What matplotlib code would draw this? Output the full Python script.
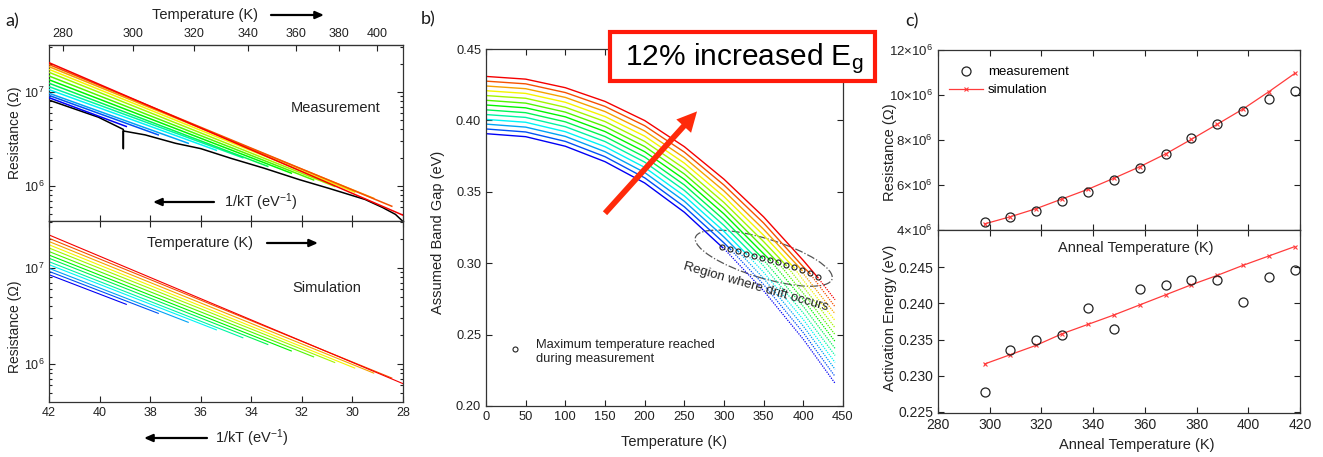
import numpy as np
import matplotlib
matplotlib.use('Agg')
import matplotlib.pyplot as plt
from matplotlib.patches import Ellipse, Rectangle
from matplotlib.colors import hsv_to_rgb
from matplotlib.ticker import FixedLocator, NullFormatter, FixedFormatter, LogLocator

plt.rcParams['font.family'] = ['Liberation Sans', 'DejaVu Sans']
plt.rcParams['mathtext.fontset'] = 'custom'
plt.rcParams['mathtext.rm'] = 'Liberation Sans'
plt.rcParams['mathtext.it'] = 'Liberation Sans:italic'
plt.rcParams['mathtext.default'] = 'regular'

K_B = 8.617e-5  # eV/K

# ---------------- data ----------------
anneal_T = [298, 308, 318, 328, 338, 348, 358, 368, 378, 388, 398, 408, 418]

# panel a (measurement): R at 1/kT = 42 and at end of each anneal sweep
meas_R_start = [8.7e6, 9.2e6, 9.7e6, 10.6e6, 11.4e6, 12.4e6, 13.5e6, 14.8e6,
                16.2e6, 17.4e6, 18.6e6, 19.6e6, 20.5e6]
meas_R_end = [4.3e6, 3.5e6, 2.85e6, 2.4e6, 2.0e6, 1.62e6, 1.37e6, 1.16e6,
              9.9e5, 8.6e5, 7.4e5, 6.1e5, 4.6e5]
# black baseline curve
base_invkT = [42.0, 40.05, 39.06, 39.06, 39.06, 38.2, 37.0, 36.0, 34.8, 33.5,
              32.1, 30.9, 29.5, 28.8, 28.3, 28.0]
base_R = [8.2e6, 5.4e6, 4.0e6, 2.5e6, 3.85e6, 3.5e6, 2.85e6, 2.5e6, 1.97e6,
          1.55e6, 1.17e6, 9.4e5, 7.2e5, 5.9e5, 5.0e5, 4.2e5]

# panel a (simulation)
sim_R_start = [8.5e6, 9.2e6, 9.9e6, 10.8e6, 11.6e6, 12.6e6, 13.6e6, 14.8e6,
               16.1e6, 17.4e6, 18.8e6, 20.3e6, 22.0e6]
sim_R_end = [4.18e6, 3.37e6, 2.72e6, 2.27e6, 1.88e6, 1.60e6, 1.37e6, 1.19e6,
             1.04e6, 9.1e5, 8.07e5, 7.17e5, 5.9e5]

# panel b: assumed band gap vs temperature
T_grid = [0, 50, 100, 150, 200, 250, 300, 350, 400, 440]
eg_curves = [
    [0.3907, 0.3886, 0.3819, 0.3711, 0.3562, 0.3357, 0.3102, 0.2807, 0.2467, 0.2159],
    [0.3940, 0.3919, 0.3853, 0.3746, 0.3598, 0.3395, 0.3142, 0.2850, 0.2513, 0.2207],
    [0.3974, 0.3953, 0.3888, 0.3781, 0.3635, 0.3434, 0.3183, 0.2893, 0.2559, 0.2257],
    [0.4007, 0.3987, 0.3921, 0.3816, 0.3671, 0.3471, 0.3223, 0.2936, 0.2605, 0.2305],
    [0.4041, 0.4021, 0.3956, 0.3852, 0.3708, 0.3510, 0.3264, 0.2980, 0.2651, 0.2354],
    [0.4074, 0.4054, 0.3990, 0.3887, 0.3744, 0.3548, 0.3304, 0.3022, 0.2697, 0.2403],
    [0.4108, 0.4088, 0.4025, 0.3922, 0.3781, 0.3587, 0.3345, 0.3066, 0.2744, 0.2452],
    [0.4141, 0.4121, 0.4058, 0.3957, 0.3817, 0.3625, 0.3385, 0.3108, 0.2789, 0.2500],
    [0.4174, 0.4155, 0.4092, 0.3992, 0.3853, 0.3663, 0.3425, 0.3151, 0.2835, 0.2548],
    [0.4208, 0.4189, 0.4127, 0.4027, 0.3890, 0.3701, 0.3466, 0.3195, 0.2881, 0.2598],
    [0.4241, 0.4222, 0.4161, 0.4062, 0.3926, 0.3739, 0.3506, 0.3237, 0.2927, 0.2646],
    [0.4275, 0.4256, 0.4195, 0.4098, 0.3963, 0.3778, 0.3547, 0.3281, 0.2974, 0.2695],
    [0.4308, 0.4289, 0.4229, 0.4133, 0.3999, 0.3816, 0.3588, 0.3324, 0.3019, 0.2744],
]
eg_at_max = [0.3111, 0.3098, 0.3083, 0.3066, 0.3051, 0.3038, 0.3022, 0.3005,
             0.2987, 0.2970, 0.2952, 0.2930, 0.2901]

# panel c
meas_R298 = [4.34e6, 4.58e6, 4.86e6, 5.29e6, 5.70e6, 6.22e6, 6.74e6, 7.38e6,
             8.10e6, 8.71e6, 9.30e6, 9.82e6, 10.19e6]
sim_R298 = [4.27e6, 4.59e6, 4.95e6, 5.38e6, 5.81e6, 6.30e6, 6.81e6, 7.38e6,
            8.03e6, 8.70e6, 9.38e6, 10.15e6, 10.96e6]
meas_Ea = [0.2277, 0.2335, 0.2349, 0.2356, 0.2394, 0.2365, 0.2420, 0.2426,
           0.2432, 0.2432, 0.2402, 0.2437, 0.2447]
sim_Ea = [0.2316, 0.2329, 0.2342, 0.2358, 0.2371, 0.2384, 0.2398, 0.2412,
          0.2426, 0.2439, 0.2453, 0.2466, 0.2479]

temp_ticks_a = [280, 300, 320, 340, 360, 380, 400]
invkT_ticks = [42, 40, 38, 36, 34, 32, 30, 28]

# ---------------- styling ----------------
n = len(anneal_T)
cols = [hsv_to_rgb((h, 1.0, 0.96)) for h in np.linspace(2 / 3, 0, n)]
RED = '#FF3B3B'
TXT = '#222222'

W, H = 1323, 457
fig = plt.figure(figsize=(W / 100, H / 100), dpi=100)


def fax(l, t, r, b):
    return fig.add_axes([l / W, 1 - b / H, (r - l) / W, (b - t) / H])


def style(ax, size=9):
    ax.tick_params(which='both', direction='in', top=True, right=True,
                   labelsize=size, colors='#222222', length=4, width=0.8)
    ax.tick_params(which='minor', length=2.2)
    for s in ax.spines.values():
        s.set_linewidth(0.9)
        s.set_color('#333333')


def ftext(x, y, s, **kw):
    fig.text(x / W, 1 - y / H, s, **kw)


def farrow(x1, x2, y):
    fig.add_artist(matplotlib.patches.FancyArrowPatch(
        (x1 / W, 1 - y / H), (x2 / W, 1 - y / H), transform=fig.transFigure,
        arrowstyle='-|>,head_length=5,head_width=2.2', lw=1.6, color='black',
        shrinkA=0, shrinkB=0))


# ---------------- panel a ----------------
axa1 = fax(49, 45, 403, 221)
axa2 = fax(49, 221, 403, 402)
x_end = [1.0 / (K_B * t) for t in anneal_T]

axa1.plot(base_invkT, base_R, color='black', lw=1.1, zorder=2)
for i in range(n):
    axa1.plot([42, x_end[i]], [meas_R_start[i], meas_R_end[i]], color=cols[i],
              lw=1.1, zorder=3)
for i in range(n):
    axa2.plot([42, x_end[i]], [sim_R_start[i], sim_R_end[i]], color=cols[i],
              lw=0.8)

for ax, ylim in ((axa1, (4.25e5, 3.16e7)), (axa2, (4.04e5, 3.07e7))):
    ax.set_yscale('log')
    ax.set_xlim(42, 28)
    ax.set_ylim(*ylim)
    ax.xaxis.set_major_locator(FixedLocator(invkT_ticks))
    ax.yaxis.set_major_locator(FixedLocator([1e6, 1e7]))
    ax.yaxis.set_major_formatter(FixedFormatter([r'$10^{6}$', r'$10^{7}$']))
    ax.yaxis.set_minor_locator(LogLocator(base=10, subs=np.arange(2, 10)))
    ax.yaxis.set_minor_formatter(NullFormatter())
    style(ax, 9)
    ax.set_ylabel('Resistance (Ω)', fontsize=10, color=TXT)

axa1.tick_params(labelbottom=False, top=False)
axa2.set_xticklabels([str(v) for v in invkT_ticks])
axa1.yaxis.set_label_coords(-0.077, 0.5)
axa2.yaxis.set_label_coords(-0.077, 0.414)


def inv_fwd(x):
    x = np.asarray(x, dtype=float)
    with np.errstate(divide='ignore', invalid='ignore'):
        return np.where(x > 0, 1.0 / (K_B * np.where(x > 0, x, 1.0)), 1e9)


sec = axa1.secondary_xaxis('top', functions=(inv_fwd, inv_fwd))
sec.set_xticks(temp_ticks_a)
sec.set_xticklabels([str(v) for v in temp_ticks_a])
sec.tick_params(direction='in', labelsize=9, length=4, width=0.8, colors='#222222')

axa1.text(0.81, 0.64, 'Measurement', transform=axa1.transAxes, fontsize=10.5,
          ha='center', va='center', color=TXT)
axa2.text(0.784, 0.63, 'Simulation', transform=axa2.transAxes, fontsize=10.5,
          ha='center', va='center', color=TXT)

ftext(205, 15, 'Temperature (K)', fontsize=10.5, ha='center', va='center', color=TXT)
farrow(271, 324, 15)
ftext(261, 202, r'1/kT (eV$^{-1}$)', fontsize=10.5, ha='center', va='center', color=TXT)
farrow(214, 153, 202)
ftext(200, 243, 'Temperature (K)', fontsize=10.5, ha='center', va='center', color=TXT)
farrow(267, 318, 243)
ftext(252, 438, r'1/kT (eV$^{-1}$)', fontsize=10.5, ha='center', va='center', color=TXT)
farrow(207, 144, 438)

# ---------------- panel b ----------------
axb = fax(486, 49, 843, 406)
for k in range(n):
    tm = anneal_T[k]
    sT = [t for t in T_grid if t < tm] + [tm]
    sE = [e for t, e in zip(T_grid, eg_curves[k]) if t < tm] + [eg_at_max[k]]
    dT = [tm] + [t for t in T_grid if t > tm]
    dE = [eg_at_max[k]] + [e for t, e in zip(T_grid, eg_curves[k]) if t > tm]
    axb.plot(sT, sE, color=cols[k], lw=1.0)
    axb.plot(dT, dE, color=cols[k], lw=0.9, ls=(0, (1, 1)))
axb.plot(anneal_T, eg_at_max, ls='none', marker='o', ms=3.6, mfc='none',
         mec='#222222', mew=0.8, zorder=5)
axb.set_xlim(0, 450)
axb.set_ylim(0.20, 0.45)
axb.set_xticks(np.arange(0, 451, 50))
axb.set_yticks(np.arange(0.20, 0.451, 0.05))
axb.set_yticklabels(['%.2f' % v for v in np.arange(0.20, 0.451, 0.05)])
style(axb, 9.3)
axb.set_xlabel('Temperature (K)', fontsize=10.5, color=TXT)
axb.set_ylabel('Assumed Band Gap (eV)', fontsize=10.5, color=TXT)
axb.xaxis.set_label_coords(0.527, -0.081)
axb.yaxis.set_label_coords(-0.115, 0.486)

axb.add_patch(Ellipse((0.778, 0.414), 0.40, 0.11, angle=-17,
                      transform=axb.transAxes, fill=False, ec='#555555',
                      lw=0.9, ls='-.'))
axb.text(339.5, 0.2836, 'Region where drift occurs', fontsize=9.5,
         rotation=-16, ha='center', va='center', color=TXT)
axb.plot([37], [0.2397], ls='none', marker='o', ms=3.6, mfc='none',
         mec='#222222', mew=0.8)
axb.text(63, 0.2377, 'Maximum temperature reached\nduring measurement',
         fontsize=9.3, ha='left', va='center', color=TXT, linespacing=1.25)
axb.annotate('', xy=(266, 0.4063), xytext=(150, 0.335),
             arrowprops=dict(arrowstyle='simple,head_length=1.1,head_width=1.1,tail_width=0.32',
                             mutation_scale=13, fc='#FF2A0A', ec='none',
                             shrinkA=0, shrinkB=0))

# red text box
fig.add_artist(Rectangle((610 / W, 1 - 81 / H), 265 / W, 49 / H,
                         transform=fig.transFigure, fill=True, fc='white',
                         ec='#FF1A0A', lw=3.0, zorder=10))
ftext(625, 65, r'12% increased E$_{g}$', fontsize=21.5, ha='left',
      va='baseline', color='black', zorder=11)

# ---------------- panel c ----------------
axc1 = fax(938, 50, 1300, 230)
axc2 = fax(938, 230, 1300, 413)

axc1.plot(anneal_T, sim_R298, color=RED, lw=0.9, marker='x', ms=3.2, mew=0.8,
          label='simulation', zorder=3)
axc1.plot(anneal_T, meas_R298, ls='none', marker='o', ms=6.5, mfc='none',
          mec='#222222', mew=0.9, label='measurement', zorder=4)
axc1.set_xlim(280, 420)
axc1.set_ylim(4e6, 12e6)
axc1.set_yticks([4e6, 6e6, 8e6, 10e6, 12e6])
axc1.set_yticklabels([r'$%d{\times}10^{6}$' % v for v in (4, 6, 8, 10, 12)])
axc1.set_xticks(np.arange(280, 421, 20))
style(axc1, 9.5)
axc1.tick_params(labelbottom=False)
axc1.set_ylabel('Resistance (Ω)', fontsize=10.5, color=TXT)
axc1.yaxis.set_label_coords(-0.114, 0.43)
h, l = axc1.get_legend_handles_labels()
axc1.legend([h[1], h[0]], [l[1], l[0]], loc='upper left', frameon=False,
            fontsize=9.5, handlelength=2.6, handletextpad=0.4,
            labelspacing=0.45, bbox_to_anchor=(0.0, 0.97), borderpad=0.3)

axc2.plot(anneal_T, sim_Ea, color=RED, lw=0.9, marker='x', ms=3.2, mew=0.8,
          zorder=3)
axc2.plot(anneal_T, meas_Ea, ls='none', marker='o', ms=6.5, mfc='none',
          mec='#222222', mew=0.9, zorder=4)
axc2.set_xlim(280, 420)
axc2.set_ylim(0.2248, 0.2502)
axc2.set_yticks([0.225, 0.230, 0.235, 0.240, 0.245])
axc2.set_yticklabels(['0.225', '0.230', '0.235', '0.240', '0.245'])
axc2.set_xticks(np.arange(280, 421, 20))
style(axc2, 10)
axc2.set_xlabel('Anneal Temperature (K)', fontsize=10.5, color=TXT)
axc2.set_ylabel('Activation Energy (eV)', fontsize=10.5, color=TXT)
axc2.xaxis.set_label_coords(0.55, -0.137)
axc2.yaxis.set_label_coords(-0.114, 0.52)
axc2.text(0.545, 0.90, 'Anneal Temperature (K)', transform=axc2.transAxes,
          fontsize=10.5, ha='center', va='center', color=TXT)

# panel letters
ftext(5, 21, 'a)', fontsize=13, ha='left', va='center', color='#1a1a1a',
      family=['Lato', 'DejaVu Sans'])
ftext(421, 19, 'b)', fontsize=13, ha='left', va='center', color='#1a1a1a',
      family=['Lato', 'DejaVu Sans'])
ftext(905, 21, 'c)', fontsize=13, ha='left', va='center', color='#1a1a1a',
      family=['Lato', 'DejaVu Sans'])

fig.savefig('out.png', dpi=100)
